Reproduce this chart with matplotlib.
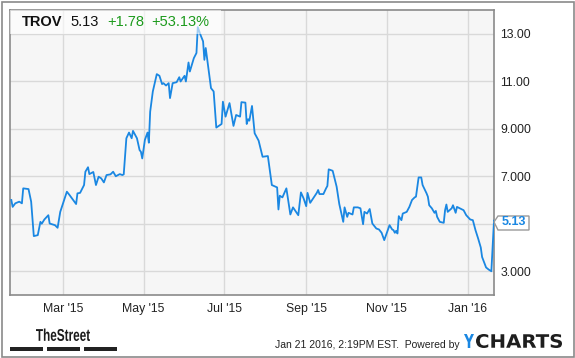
import numpy as np
import pandas as pd
import matplotlib
matplotlib.use('Agg')
import matplotlib.pyplot as plt
import matplotlib.dates as mdates
from matplotlib.patches import Rectangle, Polygon, PathPatch
from matplotlib.textpath import TextPath
from matplotlib.font_manager import FontProperties
from matplotlib.transforms import Affine2D, IdentityTransform

plt.rcParams['font.family'] = ['Liberation Sans', 'DejaVu Sans']

# TROV closing price
dates = ['2015-01-21', '2015-01-22', '2015-01-24', '2015-01-27', '2015-01-29', '2015-01-30',
         '2015-02-03', '2015-02-05', '2015-02-07', '2015-02-10', '2015-02-12', '2015-02-13',
         '2015-02-15', '2015-02-18', '2015-02-19', '2015-02-23', '2015-02-25', '2015-02-27',
         '2015-03-04', '2015-03-06', '2015-03-11', '2015-03-12', '2015-03-14', '2015-03-17',
         '2015-03-18', '2015-03-20', '2015-03-21', '2015-03-24', '2015-03-26', '2015-03-28',
         '2015-03-30', '2015-04-01', '2015-04-03', '2015-04-06', '2015-04-08', '2015-04-10',
         '2015-04-13', '2015-04-15', '2015-04-16', '2015-04-18', '2015-04-20', '2015-04-22',
         '2015-04-23', '2015-04-26', '2015-04-28', '2015-04-29', '2015-04-30', '2015-05-02',
         '2015-05-04', '2015-05-05', '2015-05-06', '2015-05-08', '2015-05-11', '2015-05-13',
         '2015-05-15', '2015-05-16', '2015-05-18', '2015-05-20', '2015-05-21', '2015-05-23',
         '2015-05-26', '2015-05-28', '2015-05-29', '2015-06-01', '2015-06-02', '2015-06-04',
         '2015-06-05', '2015-06-08', '2015-06-10', '2015-06-11', '2015-06-13', '2015-06-15',
         '2015-06-16', '2015-06-17', '2015-06-18', '2015-06-21', '2015-06-23', '2015-06-25',
         '2015-06-28', '2015-06-29', '2015-06-30', '2015-07-02', '2015-07-05', '2015-07-08',
         '2015-07-10', '2015-07-13', '2015-07-14', '2015-07-17', '2015-07-18', '2015-07-19',
         '2015-07-20', '2015-07-22', '2015-07-24', '2015-07-27', '2015-07-30', '2015-08-03',
         '2015-08-06', '2015-08-10', '2015-08-11', '2015-08-12', '2015-08-14', '2015-08-17',
         '2015-08-20', '2015-08-22', '2015-08-26', '2015-08-28', '2015-08-30', '2015-09-01',
         '2015-09-02', '2015-09-04', '2015-09-09', '2015-09-10', '2015-09-11', '2015-09-14',
         '2015-09-16', '2015-09-17', '2015-09-18', '2015-09-21', '2015-09-24', '2015-09-26',
         '2015-09-29', '2015-09-30', '2015-10-02', '2015-10-03', '2015-10-06', '2015-10-07',
         '2015-10-10', '2015-10-12', '2015-10-14', '2015-10-15', '2015-10-17', '2015-10-19',
         '2015-10-21', '2015-10-24', '2015-10-26', '2015-10-28', '2015-10-30', '2015-11-01',
         '2015-11-03', '2015-11-05', '2015-11-06', '2015-11-07', '2015-11-08', '2015-11-09',
         '2015-11-10', '2015-11-12', '2015-11-13', '2015-11-16', '2015-11-18', '2015-11-20',
         '2015-11-22', '2015-11-23', '2015-11-25', '2015-11-27', '2015-11-28', '2015-12-01',
         '2015-12-02', '2015-12-03', '2015-12-05', '2015-12-07', '2015-12-08', '2015-12-09',
         '2015-12-11', '2015-12-14', '2015-12-15', '2015-12-16', '2015-12-17', '2015-12-20',
         '2015-12-21', '2015-12-23', '2015-12-24', '2015-12-28', '2015-12-29', '2015-12-31',
         '2016-01-03', '2016-01-05', '2016-01-07', '2016-01-09', '2016-01-11', '2016-01-12',
         '2016-01-15', '2016-01-17', '2016-01-19', '2016-01-21']
price = [6.00, 5.71, 5.86, 5.93, 5.86, 6.49,
         6.46, 5.93, 4.48, 4.52, 5.08, 5.00,
         5.18, 5.36, 5.01, 4.94, 4.83, 5.50,
         6.35, 6.21, 5.83, 6.28, 6.30, 6.63,
         7.19, 7.38, 7.09, 7.18, 6.63, 6.98,
         6.91, 6.74, 7.05, 7.08, 7.19, 7.00,
         7.09, 7.05, 7.08, 8.60, 8.84, 8.60,
         8.91, 8.60, 8.10, 8.03, 7.75, 8.53,
         8.84, 8.41, 9.72, 10.57, 11.30, 11.23,
         10.88, 10.92, 10.82, 10.92, 10.29, 10.92,
         10.96, 11.17, 10.99, 11.23, 10.99, 11.79,
         11.41, 11.97, 12.19, 13.28, 12.96, 12.68,
         11.90, 12.40, 11.97, 10.71, 10.57, 9.05,
         9.16, 9.20, 10.14, 9.51, 10.08, 9.12,
         9.58, 9.51, 10.12, 10.10, 9.20, 9.40,
         9.34, 9.96, 8.81, 8.50, 7.82, 7.85,
         6.63, 6.53, 5.60, 6.18, 6.11, 6.49,
         5.39, 5.69, 5.36, 6.32, 6.07, 5.74,
         6.30, 5.88, 6.30, 6.42, 6.25, 6.25,
         6.49, 6.59, 7.29, 7.23, 6.56, 5.83,
         5.08, 5.69, 5.29, 5.46, 5.39, 5.69,
         5.69, 5.65, 4.98, 5.50, 5.43, 5.62,
         5.01, 4.80, 4.76, 4.62, 4.31, 4.62,
         4.94, 4.76, 4.73, 4.62, 4.70, 4.59,
         5.32, 5.15, 5.43, 5.50, 5.71, 6.00,
         6.11, 6.14, 6.95, 6.95, 6.63, 6.28,
         6.14, 5.78, 5.65, 5.46, 5.54, 5.29,
         5.08, 5.04, 5.57, 5.81, 5.50, 5.65,
         5.78, 5.46, 5.71, 5.60, 5.57, 5.36,
         5.18, 5.15, 4.73, 4.38, 4.00, 3.60,
         3.16, 3.07, 3.00, 5.13]

yticks = [3, 5, 7, 9, 11, 13]
ytick_labels = ['3.000', '', '7.000', '9.000', '11.00', '13.00']
ticker = 'TROV'
last = '5.13'
change = '+1.78'
pct = '+53.13%'

x = pd.to_datetime(dates)

W, H = 575, 358
fig = plt.figure(figsize=(W / 100, H / 100), dpi=100)
fig.patch.set_facecolor('white')


def logo_text(s, x0, x1, ytop, ybot, color, family, weight='bold'):
    # squeeze/stretch a word into a pixel box (y measured from the top)
    tp = TextPath((0, 0), s, size=20, prop=FontProperties(family=family, weight=weight))
    ext = tp.get_extents()
    tr = (Affine2D().translate(-ext.x0, -ext.y0)
          .scale((x1 - x0) / ext.width, (ybot - ytop) / ext.height)
          .translate(x0, H - ybot))
    fig.add_artist(PathPatch(tp, transform=tr + IdentityTransform(),
                             facecolor=color, edgecolor='none'))


# outer frame
fig.add_artist(Rectangle((1.5 / W, 1.5 / H), (W - 3) / W, (H - 3) / H, transform=fig.transFigure,
                         fill=False, edgecolor='#8a8a8a', linewidth=1.2))

ax = fig.add_axes([10 / W, (H - 295) / H, 484 / W, 285 / H])
ax.set_facecolor('#f6f6f6')
ax.plot(x, price, color='#1a87e2', linewidth=1.3, zorder=3)

ax.set_xlim(pd.Timestamp('2015-01-20'), pd.Timestamp('2016-01-21'))
ax.set_ylim(2, 14)
ax.xaxis.set_major_locator(mdates.MonthLocator(bymonth=[1, 3, 5, 7, 9, 11]))
ax.xaxis.set_major_formatter(mdates.DateFormatter("%b '%y"))
ax.set_yticks(yticks)
ax.set_yticklabels(ytick_labels)
ax.yaxis.tick_right()
ax.grid(True, color='#d9d9d9', linewidth=1)
ax.set_axisbelow(True)
ax.tick_params(length=0, labelsize=8.8, colors='#222222')
ax.tick_params(axis='y', pad=4.5)
ax.tick_params(axis='x', pad=6)
for s in ax.spines.values():
    s.set_color('#8a8a8a')
    s.set_linewidth(1.2)

# header box with ticker
ax.add_patch(Rectangle((0, 0.915), 0.435, 0.085, transform=ax.transAxes,
                       facecolor='white', alpha=0.6, edgecolor='none', zorder=4))
ty = 0.958
ax.text(0.024, ty, ticker, transform=ax.transAxes, fontsize=10.5, fontweight='bold',
        color='#111111', va='center', zorder=5)
ax.text(0.124, ty, last, transform=ax.transAxes, fontsize=10.5, color='#111111',
        va='center', zorder=5)
ax.text(0.200, ty, change, transform=ax.transAxes, fontsize=10.5, color='#1c9a1c',
        va='center', zorder=5)
ax.text(0.292, ty, pct, transform=ax.transAxes, fontsize=10.5, color='#1c9a1c',
        va='center', zorder=5)

# last price callout
y0 = (H - 230) / H
y1 = (H - 216) / H
ym = (H - 222) / H
callout = Polygon([(494 / W, ym), (498 / W, y1), (529 / W, y1), (529 / W, y0), (498 / W, y0)],
                  closed=True, transform=fig.transFigure, facecolor='white',
                  edgecolor='#9a9a9a', linewidth=1)
fig.add_artist(callout)
fig.text(513.5 / W, ym, last, fontsize=9, fontweight='bold', color='#1a87e2',
         ha='center', va='center')

# footer
logo_text('TheStreet', 36, 90, 328.5, 341, '#1a1a1a', 'Liberation Sans')
for bx in [10, 47, 84]:
    fig.add_artist(Rectangle((bx / W, (H - 350.5) / H), 32.5 / W, 3.2 / H,
                             transform=fig.transFigure, facecolor='#222222', edgecolor='none'))
fig.text(460 / W, (H - 345) / H, 'Jan 21 2016, 2:19PM EST.  Powered by', fontsize=7.5,
         color='#222222', ha='right', va='center')
logo_text('Y', 464, 474, 334, 348, '#1a87e2', 'DejaVu Sans')
logo_text('CHARTS', 476, 562, 334, 348, '#1e1e1e', 'DejaVu Sans')

fig.savefig('out.png', dpi=100)
